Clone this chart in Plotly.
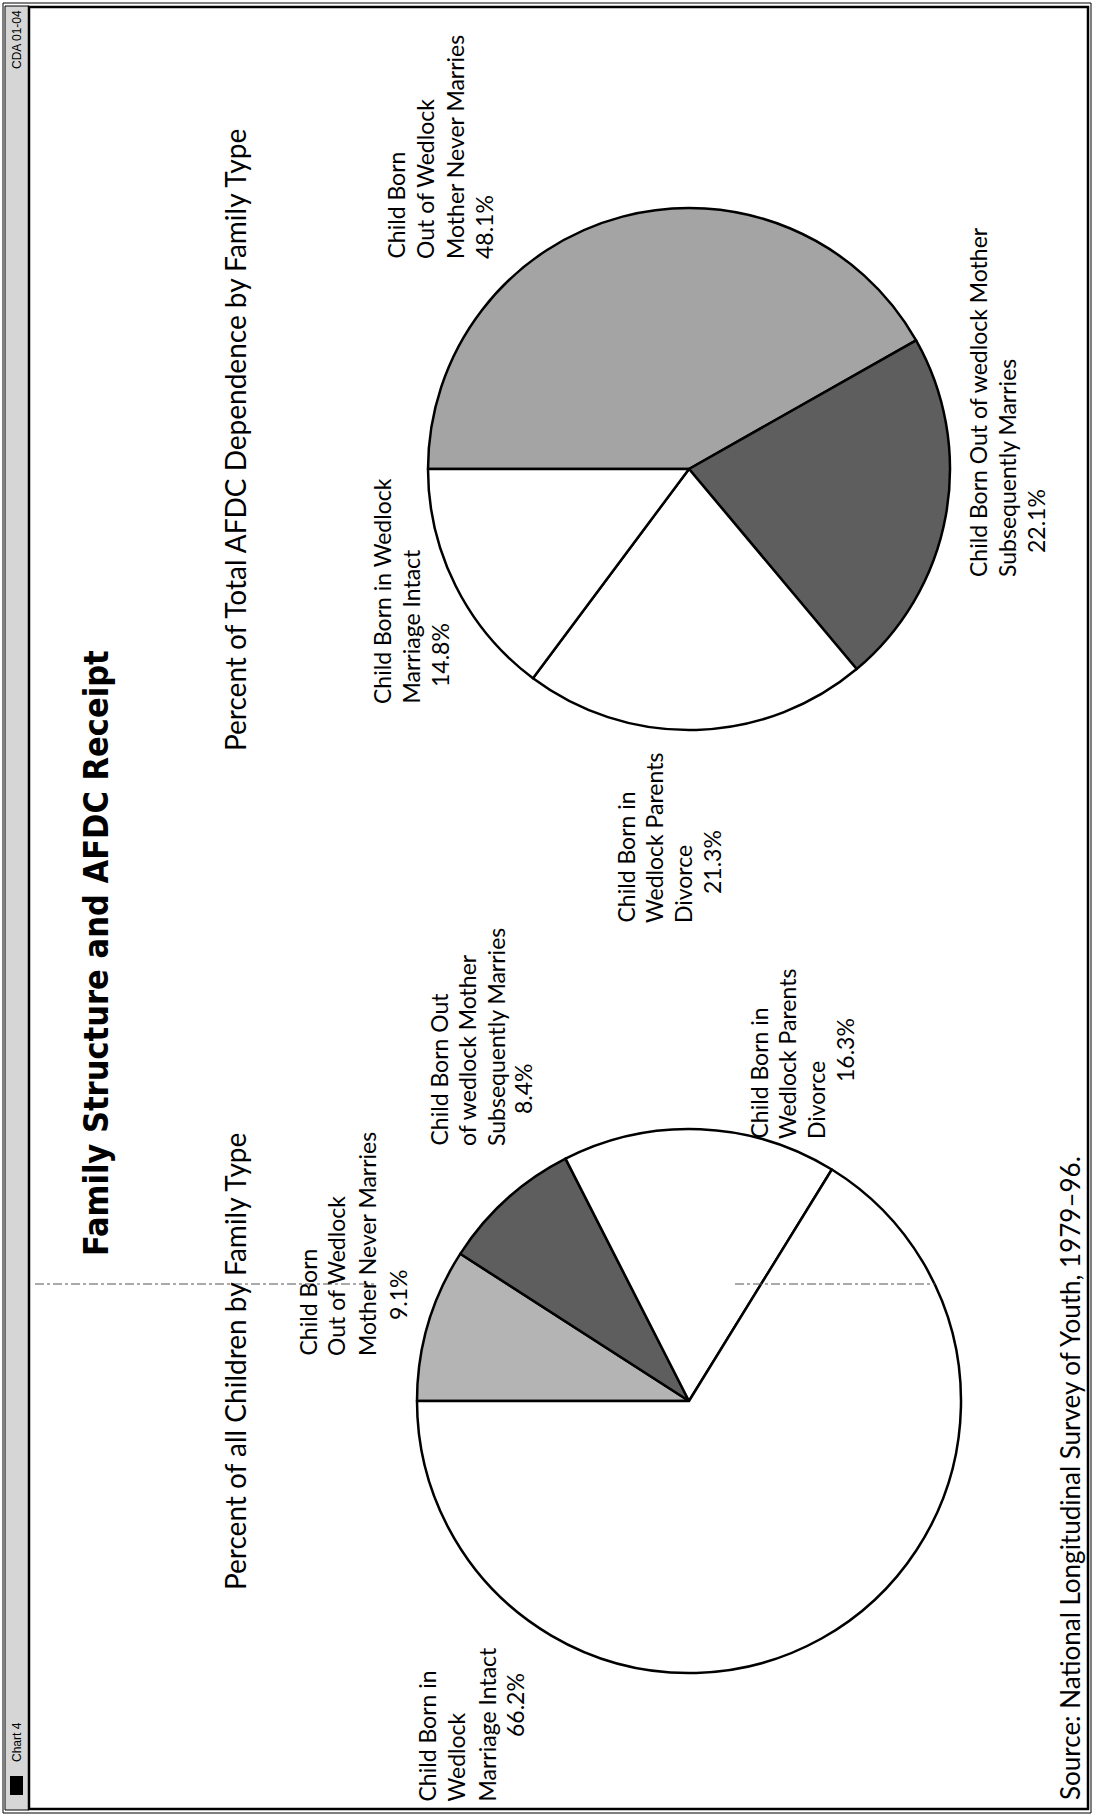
import plotly.graph_objects as go

# ---------------- data ----------------
categories = [
    "Child Born Out of Wedlock Mother Never Marries",
    "Child Born Out of Wedlock Mother Subsequently Marries",
    "Child Born in Wedlock Parents Divorce",
    "Child Born in Wedlock Marriage Intact",
]
# Percent of all children by family type (slice sizes and printed labels)
all_children_values = [9.1, 8.4, 16.3, 66.2]
all_children_labels = ["9.1%", "8.4%", "16.3%", "66.2%"]
# Percent of total AFDC dependence: slice sizes as drawn, and printed labels
afdc_values = [41.8, 22.1, 21.3, 14.8]
afdc_labels = ["48.1%", "22.1%", "21.3%", "14.8%"]

all_children_label_lines = [
    ["Child Born", "Out of Wedlock", "Mother Never Marries"],
    ["Child Born Out", "of wedlock Mother", "Subsequently Marries"],
    ["Child Born in", "Wedlock Parents", "Divorce"],
    ["Child Born in", "Wedlock", "Marriage Intact"],
]
afdc_label_lines = [
    ["Child Born", "Out of Wedlock", "Mother Never Marries"],
    ["Child Born Out of wedlock Mother", "Subsequently Marries"],
    ["Child Born in", "Wedlock Parents", "Divorce"],
    ["Child Born in Wedlock", "Marriage Intact"],
]

title_text = "<b>Family Structure and AFDC Receipt</b>"
subtitle_all = "Percent of all Children by Family Type"
subtitle_afdc = "Percent of Total AFDC Dependence by Family Type"
source_text = "Source: National Longitudinal Survey of Youth, 1979–96."

# ---------------- styles / layout ----------------
W, H = 1094, 1817
afdc_colors = ["#a4a4a4", "#5e5e5e", "#ffffff", "#ffffff"]
all_colors = ["#b4b4b4", "#5e5e5e", "#ffffff", "#ffffff"]
BODY = "Lato, 'Open Sans', sans-serif"
TITLE = ("'Liberation Sans Narrow', 'Noto Sans Condensed', 'DejaVu Sans Condensed', "
         "'Roboto Condensed', sans-serif")
LSIZE = 23


def X(p):
    return p / W


def Y(p):
    return 1 - p / H


fig = go.Figure()


def add_pie(values, colors, cx, cy, r):
    fig.add_trace(go.Pie(
        values=values, labels=categories, sort=False,
        direction="clockwise", rotation=270,
        marker=dict(colors=colors, line=dict(color="black", width=2.5)),
        textinfo="none", showlegend=False, hoverinfo="label+percent",
        domain=dict(x=[X(cx - r), X(cx + r)], y=[Y(cy + r), Y(cy - r)]),
    ))


add_pie(afdc_values, afdc_colors, 689, 469, 261)
add_pie(all_children_values, all_colors, 689, 1401, 272)

ann = []


def rot_text(text, x, y, size, family=BODY, yanchor="bottom"):
    ann.append(dict(text=text, x=X(x), y=Y(y), xref="paper", yref="paper",
                    xanchor="center", yanchor=yanchor, textangle=-90,
                    showarrow=False, font=dict(family=family, size=size, color="black")))


# label placement: (column x positions, bottom y of lines, centre y of percent)
afdc_place = [
    ([396, 425, 455, 484], 261, 227),
    ([978, 1007, 1036], 579, 521),
    ([625, 654, 683, 712], 925, 862),
    ([382, 411, 440], 706, 655),
]
all_place = [
    ([307, 336, 367, 398], 1358, 1295),
    ([438, 467, 496, 523], 1148, 1089),
    ([758, 787, 816, 845], 1141, 1050),
    ([426, 455, 486, 515], 1804, 1705),
]

for lines, pct, (cols, yb, yp) in zip(afdc_label_lines, afdc_labels, afdc_place):
    for line, cx in zip(lines, cols):
        rot_text(line, cx, yb, LSIZE)
    rot_text(pct, cols[len(lines)], yp, LSIZE, yanchor="middle")

for lines, pct, (cols, yb, yp) in zip(all_children_label_lines, all_children_labels, all_place):
    for line, cx in zip(lines, cols):
        rot_text(line, cx, yb, LSIZE)
    rot_text(pct, cols[len(lines)], yp, LSIZE, yanchor="middle")

rot_text(title_text, 96, 953, 34, family=TITLE, yanchor="middle")
rot_text(subtitle_afdc, 235, 440, 28, yanchor="middle")
rot_text(subtitle_all, 235, 1362, 28, yanchor="middle")
rot_text(source_text, 1070, 1802, 26)
rot_text("CDA 01-04", 17, 40, 12, family="'Liberation Sans', sans-serif", yanchor="middle")
rot_text("Chart 4", 17, 1742, 12, family="'Liberation Sans', sans-serif", yanchor="middle")

shapes = []


def rect(x0, y0, x1, y1, fill="rgba(0,0,0,0)", lw=1, color="black"):
    shapes.append(dict(type="rect", xref="paper", yref="paper",
                       x0=X(x0), x1=X(x1), y0=Y(y1), y1=Y(y0),
                       fillcolor=fill, line=dict(color=color, width=lw), layer="below"))


def hline(x0, x1, y, lw=1, dash="solid", color="black"):
    shapes.append(dict(type="line", xref="paper", yref="paper",
                       x0=X(x0), x1=X(x1), y0=Y(y), y1=Y(y),
                       line=dict(color=color, width=lw, dash=dash), layer="above"))


rect(3, 3, 1091, 1813, lw=1)
rect(5, 6, 29, 1810, fill="#d6d6d6", lw=1)
rect(29, 7, 1088, 1809, lw=2.5)
rect(10, 1776, 23, 1795, fill="black", lw=0)
hline(35, 375, 1284, lw=1, dash="dashdot", color="#555555")
hline(735, 935, 1284, lw=1, dash="dashdot", color="#555555")

fig.update_layout(
    width=W, height=H, margin=dict(l=0, r=0, t=0, b=0),
    paper_bgcolor="white", plot_bgcolor="white",
    annotations=ann, shapes=shapes,
)

fig.write_html("out.html", config={"displayModeBar": False},
               post_script="document.body.style.margin='0px';document.body.style.overflow='hidden';")
